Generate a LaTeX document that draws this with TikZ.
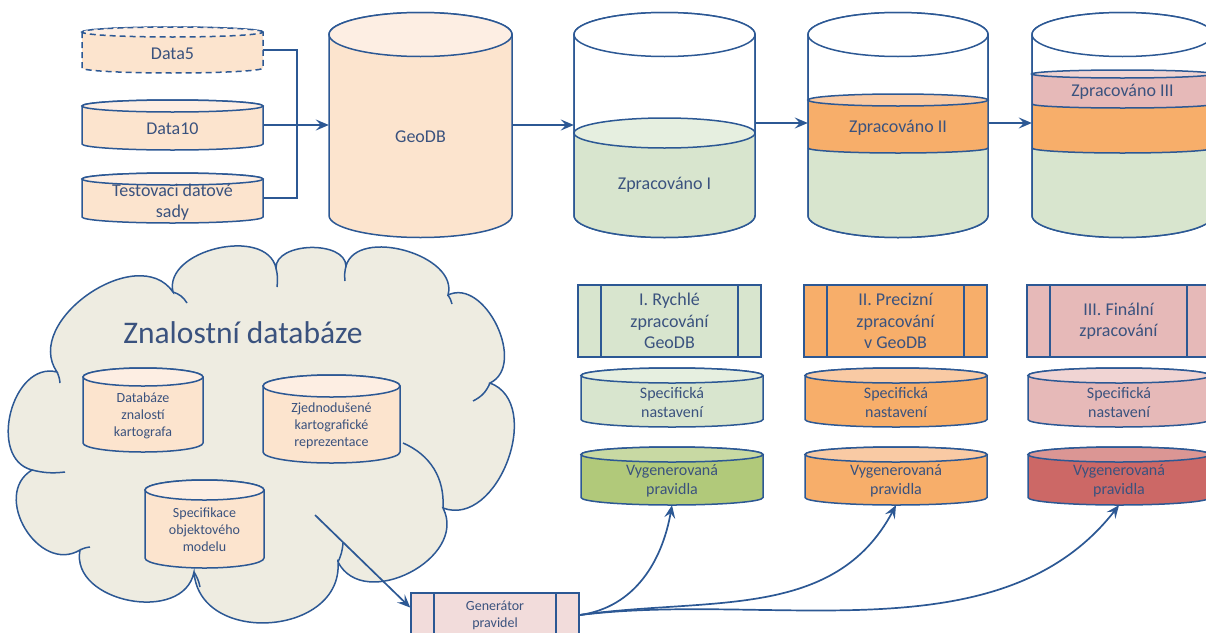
\documentclass[tikz,border=0pt]{standalone}
\usepackage{fontspec}
\setmainfont{Carlito}
\usetikzlibrary{arrows.meta}
\definecolor{lnc}{RGB}{44,88,148}
\definecolor{txc}{RGB}{58,82,126}
\definecolor{peach}{RGB}{252,228,206}
\definecolor{peachtop}{RGB}{253,238,227}
\definecolor{grn}{RGB}{216,229,206}
\definecolor{grntop}{RGB}{230,239,224}
\definecolor{org}{RGB}{247,174,106}
\definecolor{orgtop}{RGB}{249,202,164}
\definecolor{pnk}{RGB}{230,185,184}
\definecolor{pnktop}{RGB}{240,212,211}
\definecolor{dgrn}{RGB}{177,201,122}
\definecolor{dgrntop}{RGB}{200,217,163}
\definecolor{rdc}{RGB}{204,104,102}
\definecolor{rdctop}{RGB}{219,150,148}
\definecolor{tank}{RGB}{255,255,255}
\definecolor{tanktop}{RGB}{255,255,255}
\definecolor{genfill}{RGB}{242,220,219}
\definecolor{cld}{RGB}{238,236,225}
\tikzset{
	cylline/.style={draw=lnc, line width=1.5pt},
	cyltext/.style={text=txc, align=center, inner sep=0pt},
	proc/.style={draw=lnc, line width=1.5pt, fill=#1, minimum width=183, minimum height=72, align=center, text=txc, font=\fontsize{18}{21.5}\selectfont, inner sep=0pt,
		path picture={\draw[lnc, line width=1.5pt] ([xshift=23pt]path picture bounding box.north west) -- ([xshift=23pt]path picture bounding box.south west) ([xshift=-23pt]path picture bounding box.north east) -- ([xshift=-23pt]path picture bounding box.south east);}},
	link/.style={draw=lnc, line width=1.7pt},
	arr/.style={link, -{Stealth[length=13pt, width=11pt, inset=5pt]}},
	big/.style={font=\fontsize{18}{21.5}\selectfont},
	mid/.style={font=\fontsize{16}{19}\selectfont},
	small/.style={font=\fontsize{14}{17}\selectfont}
}
\newcommand{\dbase}[9][]{%
	\filldraw[cylline, fill=#8, #1] (#3-#5/2,#4+#6/2-#7) -- (#3-#5/2,#4-#6/2+#7) arc[start angle=180, end angle=360, x radius=#5/2, y radius=#7] -- (#3+#5/2,#4+#6/2-#7) arc[start angle=0, end angle=180, x radius=#5/2, y radius=#7] -- cycle;
	\filldraw[cylline, fill=#8top, #1] (#3,#4+#6/2-#7) ellipse [x radius=#5/2, y radius=#7];
	\node[inner sep=0pt, minimum width=#5, minimum height=#6] (#2) at (#3,#4) {};
	\node[cyltext, #1] (#2t) at (#3,#4-#7/2-1) {#9};
}
\begin{document}
\begin{tikzpicture}[x=1pt, y=1pt]
	\useasboundingbox (0,0) rectangle (1206,-632);
	\dbase[big, dash pattern=on 6pt off 4pt]{d5}{172.5}{-50}{181}{46}{5}{peach}{Data5}
	\dbase[big]{d10}{172.5}{-125}{181}{50}{6}{peach}{Data10}
	\dbase[big]{dt}{172.5}{-198}{181}{50}{6}{peach}{Testovaci datové\\sady}
	\dbase[big]{geo}{420.5}{-125}{183}{225}{22}{peach}{GeoDB}
	\dbase{z1}{664.5}{-125}{181}{225}{22}{tank}{}
	\fill[grn] (574,-133) -- (574,-215.5) arc[start angle=180, end angle=360, x radius=90.5, y radius=22] -- (755,-133) -- cycle;
	\draw[cylline] (574,-34.5) -- (574,-215.5) arc[start angle=180, end angle=360, x radius=90.5, y radius=22] -- (755,-34.5);
	\draw[cylline, fill=grntop] (664.5,-133) ellipse [x radius=90.5, y radius=15];
	\node[big, text=txc] (z1l) at (664.5,-185) {Zpracováno I};
	\dbase{z2}{898}{-125}{180}{225}{22}{tank}{}
	\fill[grn] (808,-148) -- (808,-215.5) arc[start angle=180, end angle=360, x radius=90, y radius=22] -- (988,-148) -- cycle;
	\fill[org] (808,-100) -- (808,-148) arc[start angle=180, end angle=360, x radius=90, y radius=5] -- (988,-100) -- cycle;
	\draw[cylline] (808,-34.5) -- (808,-215.5) arc[start angle=180, end angle=360, x radius=90, y radius=22] -- (988,-34.5);
	\draw[cylline] (808,-148) arc[start angle=180, end angle=360, x radius=90, y radius=5];
	\draw[cylline, fill=orgtop] (898,-100) ellipse [x radius=90, y radius=6];
	\node[big, text=txc] (z2l) at (898,-128) {Zpracováno II};
	\dbase{z3}{1122.5}{-125}{181}{225}{22}{tank}{}
	\fill[grn] (1032,-148) -- (1032,-215.5) arc[start angle=180, end angle=360, x radius=90.5, y radius=22] -- (1213,-148) -- cycle;
	\fill[org] (1032,-104) -- (1032,-148) arc[start angle=180, end angle=360, x radius=90.5, y radius=5] -- (1213,-104) -- cycle;
	\fill[pnk] (1032,-74) -- (1032,-104) arc[start angle=180, end angle=360, x radius=90.5, y radius=4] -- (1213,-74) -- cycle;
	\draw[cylline] (1032,-34.5) -- (1032,-215.5) arc[start angle=180, end angle=360, x radius=90.5, y radius=22] -- (1213,-34.5);
	\draw[cylline] (1032,-148) arc[start angle=180, end angle=360, x radius=90.5, y radius=5];
	\draw[cylline] (1032,-104) arc[start angle=180, end angle=360, x radius=90.5, y radius=4];
	\draw[cylline, fill=pnktop] (1122.5,-74) ellipse [x radius=90.5, y radius=4];
	\node[big, text=txc] (z3l) at (1122.5,-92) {Zpracováno III};
	\node[proc=grn] (p1) at (669.5,-321) {I. Rychlé\\zpracování\\GeoDB};
	\node[proc=org] (p2) at (895.5,-321) {II. Precizní\\zpracování\\v GeoDB};
	\node[proc=pnk] (p3) at (1118.5,-321) {III. Finální\\zpracování};
	\dbase[mid]{s1}{672}{-397.5}{182}{59}{7.5}{grn}{Specifická\\nastavení}
	\dbase[mid]{s2}{896}{-397.5}{182}{59}{7.5}{org}{Specifická\\nastavení}
	\dbase[mid]{s3}{1119}{-397.5}{182}{59}{7.5}{pnk}{Specifická\\nastavení}
	\dbase[mid]{v1}{672}{-476}{182}{58}{7.5}{dgrn}{Vygenerovaná\\pravidla}
	\dbase[mid]{v2}{896}{-476}{182}{58}{7.5}{org}{Vygenerovaná\\pravidla}
	\dbase[mid]{v3}{1119}{-476}{182}{58}{7.5}{rdc}{Vygenerovaná\\pravidla}
	\filldraw[draw=lnc, fill=cld, line width=1.5pt] (57,-372) to[bend left=90, looseness=1.12] (173,-292) to[bend left=90, looseness=1.05] (276,-268) to[bend left=90, looseness=0.95] (346,-266) to[bend left=90, looseness=1] (448,-295) to[bend left=90, looseness=1.08] (490,-383) to[bend left=90, looseness=1.12] (443,-508) to[bend left=90, looseness=1.22] (338,-562) to[bend left=90, looseness=1.32] (194,-572) to[bend left=90, looseness=1.18] (80,-550) to[bend left=90, looseness=1.32] (32,-470) to[bend left=90, looseness=1.18] (57,-372) -- cycle;
	\draw[cylline] (57,-372) to[bend left=10] (60,-383);
	\draw[cylline] (173,-292) to[bend left=20] (187,-303);
	\draw[cylline] (276,-268) to[bend left=10] (277,-287);
	\draw[cylline] (346,-266) to[bend right=10] (345,-281);
	\draw[cylline] (448,-295) to[bend left=10] (452,-304);
	\draw[cylline] (490,-383) to[bend left=20] (473,-401);
	\draw[cylline] (403,-443) to[bend left=35] (443,-508);
	\draw[cylline] (338,-562) to[bend right=10] (343,-543);
	\draw[cylline] (194,-572) to[bend left=10] (200,-587);
	\draw[cylline] (80,-550) to[bend left=10] (90,-547);
	\draw[cylline] (32,-470) to[bend right=10] (65,-472);
	\node[font=\fontsize{31.5}{36}\selectfont, text=txc] (kt) at (243,-333) {Znalostní databáze};
	\dbase[small]{k1}{143}{-410}{120}{84}{9}{peach}{Databáze\\znalostí\\kartografa}
	\dbase[small]{k2}{331.5}{-419}{137}{88}{11}{peach}{Zjednodušené\\kartografické\\reprezentace}
	\dbase[small]{k3}{204.5}{-524}{119}{88}{10}{peach}{Specifikace\\objektového\\modelu}
	\node[proc=genfill, minimum width=168, minimum height=44, small] (gen) at (495,-615) {Generátor\\pravidel};
	\coordinate (j) at (297,-125);
	\coordinate (c0) at (315,-515);
	\draw[link] (d5.east) -| (j) |- (dt.east);
	\draw[arr] (d10.east) -- (geo.west);
	\draw[arr] (geo.east) -- (z1.west);
	\draw[arr] ([yshift=2pt]z1.east) -- ([yshift=2pt]z2.west);
	\draw[arr] ([yshift=2pt]z2.east) -- ([yshift=2pt]z3.west);
	\draw[arr] (c0) -- (gen.175);
	\draw[arr] (gen.east) to[out=8, in=-100] (v1.south);
	\draw[arr] (gen.east) to[out=8, in=-118] (v2.south);
	\draw[arr] (gen.east) to[out=7, in=-128, looseness=0.9] (v3.south);
\end{tikzpicture}
\end{document}
